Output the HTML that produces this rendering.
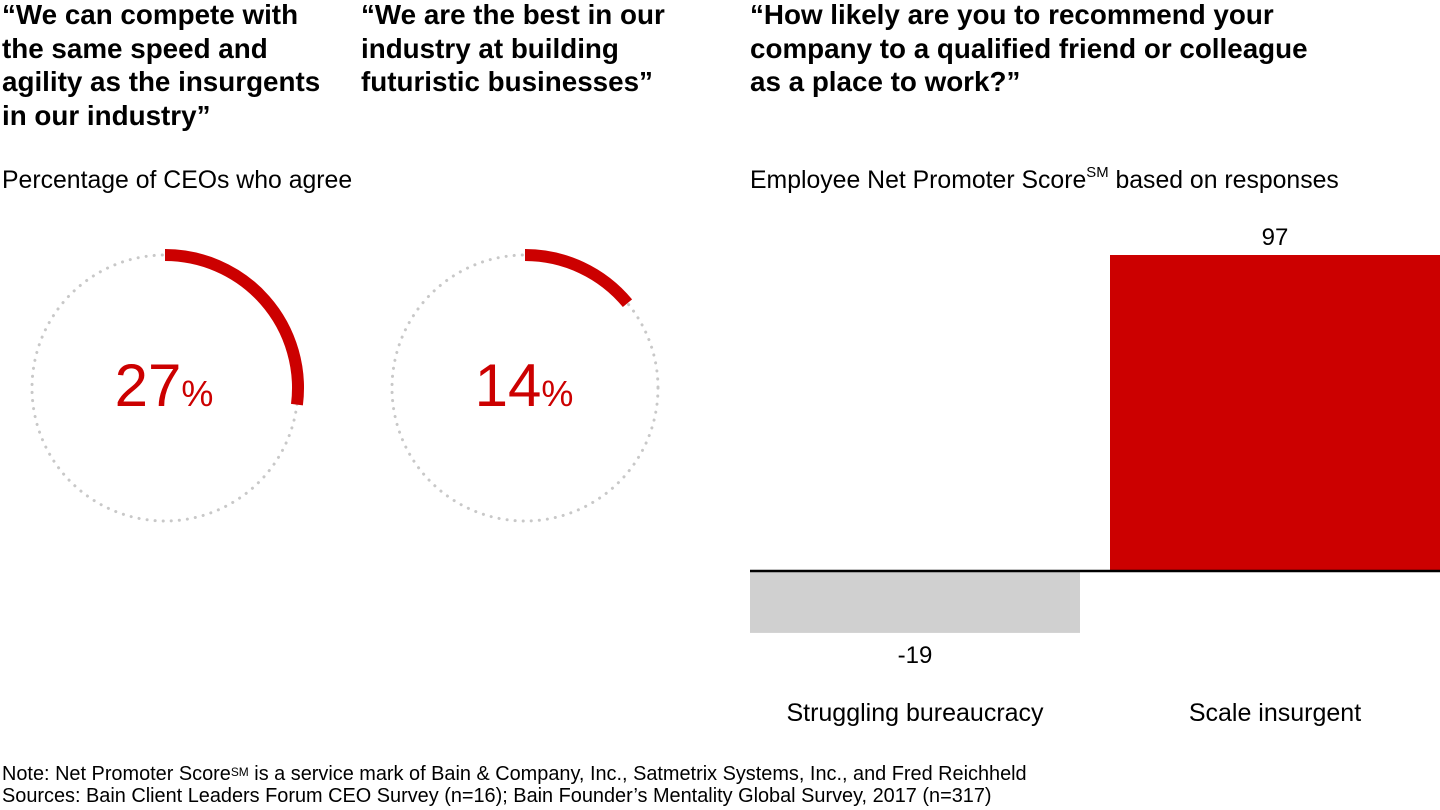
<!DOCTYPE html>
<html><head><meta charset="utf-8">
<style>
body{margin:0;width:1440px;height:810px;background:#fff;font-family:"Liberation Sans",Arial,sans-serif;color:#000;overflow:hidden;position:relative}
.h{position:absolute;font-weight:bold;font-size:27.8px;line-height:33.5px;margin:0}
.s{position:absolute;font-size:24.8px;margin:0}
.n{position:absolute;font-size:19.9px;line-height:22px;left:2px}
sup{font-size:60%;vertical-align:top;position:relative;top:-2px}
</style></head><body>
<div class="h" style="left:2px;top:-2px">“We can compete with<br>the same speed and<br>agility as the insurgents<br>in our industry”</div>
<div class="h" style="left:361px;top:-2px">“We are the best in our<br>industry at building<br>futuristic businesses”</div>
<div class="h" style="left:750px;top:-2px">“How likely are you to recommend your<br>company to a qualified friend or colleague<br>as a place to work?”</div>
<div class="s" style="left:2px;top:167px">Percentage of CEOs who agree</div>
<div class="s" style="left:750px;top:167px">Employee Net Promoter Score<sup>SM</sup> based on responses</div>
<svg id="c" width="1440" height="810" style="position:absolute;left:0;top:0"></svg>
<div class="n" style="top:763px">Note: Net Promoter Score<sup>SM</sup> is a service mark of Bain &amp; Company, Inc., Satmetrix Systems, Inc., and Fred Reichheld<br>Sources: Bain Client Leaders Forum CEO Survey (n=16); Bain Founder’s Mentality Global Survey, 2017 (n=317)</div>
<script>
const donutValues=[27,14];
const barCategories=["Struggling bureaucracy","Scale insurgent"];
const barValues=[-19,97];
const NS="http://www.w3.org/2000/svg";
const svg=document.getElementById('c');
function mk(t,a){const e=document.createElementNS(NS,t);for(const k in a)e.setAttribute(k,a[k]);svg.appendChild(e);return e;}
const centers=[165,525],cy=388,R=133;
donutValues.forEach((v,i)=>{
  const cx=centers[i];
  const ring=mk('circle',{cx:cx,cy:cy,r:R,fill:'none',stroke:'#c8c8c8','stroke-width':3,'stroke-dasharray':'0.1 8','stroke-linecap':'round'});
  
  
  const a=v/100*2*Math.PI;
  const x=cx+R*Math.sin(a),y=cy-R*Math.cos(a);
  const arc=mk('path',{d:`M${cx} ${cy-R} A${R} ${R} 0 ${v>50?1:0} 1 ${x} ${y}`,fill:'none',stroke:'#cc0000','stroke-width':12});
  
  
  const t=mk('text',{x:cx-1,y:406,'text-anchor':'middle',fill:'#cc0000','font-size':60,'font-family':'Liberation Sans, sans-serif'});
  
  
  t.textContent=v;
  const p=document.createElementNS(NS,'tspan');p.setAttribute('font-size',36);p.textContent='%';t.appendChild(p);
});
const y0=571,scale=316/97;
const yS=v=>y0-v*scale;
const xs=[750,1110],bw=330;
barValues.forEach((v,i)=>{
  const top=Math.min(yS(v),y0),h=Math.abs(yS(v)-y0);
  const r=mk('rect',{x:xs[i],y:top,width:bw,height:h,fill:v<0?'#d0d0d0':'#cc0000'});
  
  
  const ly=v<0?yS(v)+30:yS(v)-10;
  const t=mk('text',{x:xs[i]+bw/2,y:ly,'text-anchor':'middle','font-size':24,'font-family':'Liberation Sans, sans-serif'});
  
  
  t.textContent=v;
  const c=mk('text',{x:xs[i]+bw/2,y:721,'text-anchor':'middle','font-size':25,'font-family':'Liberation Sans, sans-serif'});
  
  
  c.textContent=barCategories[i];
});
const base=mk('line',{x1:750,x2:1440,y1:y0,y2:y0,stroke:'#000','stroke-width':2.5});


</script>
</body></html>
